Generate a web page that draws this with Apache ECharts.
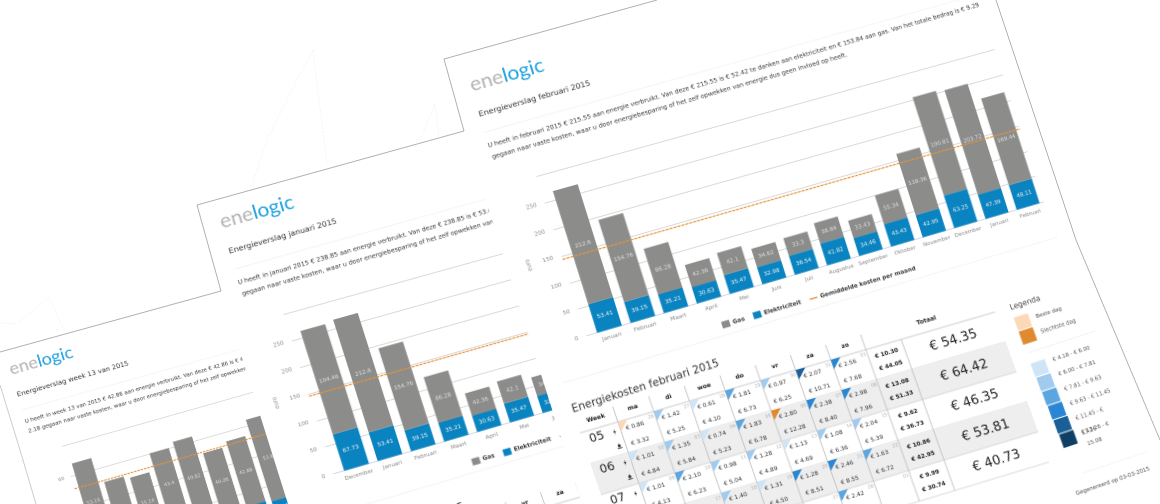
<!DOCTYPE html>
<html><head><meta charset="utf-8">
<style>html,body{margin:0;padding:0;background:#fff;width:1160px;height:504px;overflow:hidden}
.layer{position:absolute;left:0;top:0;width:1160px;height:504px;overflow:hidden}
.page{position:absolute;left:0;top:0;transform-origin:0 0}
svg{position:absolute;left:0;top:0}</style>
<script src="https://cdn.jsdelivr.net/npm/echarts@6/dist/echarts.min.js"></script>
</head><body>
<div class="layer" id="l1" style="clip-path:polygon(0 0,221px 0,221px 291px,288px 504px,0 504px)"><div class="page" id="p1"></div><div class="page" id="c1"></div></div>
<div class="layer" id="l2" style="clip-path:polygon(0 0,464px 0,464px 131px,582px 504px,0 504px)"><div class="page" id="p2"></div><div class="page" id="c2"></div><div class="page" id="t2"></div></div>
<div class="layer" id="l3"><div class="page" id="p3"></div><div class="page" id="c3"></div><div class="page" id="t3"></div></div>
<svg width="1160" height="504" fill="none">
<polyline points="657,0 444,59 464,131 197,205 221,291 0,352" stroke="#8e8e8e" stroke-width="0.7"/>
<polyline points="0,385 20,450 36,504" stroke="#b5b5b5" stroke-width="0.7"/>
<polyline points="996,0 1076,240 1160,440" stroke="#8e8e8e" stroke-width="0.7"/>
<g stroke="#ececec" stroke-width="0.6" stroke-dasharray="2 1.5">
<polyline points="252,186 267,140 297,80 313,50 327,165"/>
<polyline points="420,140 435,104 439,137"/>
<polyline points="0,323 17,324 49,297 65,333"/>
</g>
</svg>
<script>
// ---------- data: monthly report February ----------
const febCategories=['Januari','Februari','Maart','April','Mei','Juni','Juli','Augustus','September','Oktober','November','December','Januari','Februari'];
const febGas=[212.6,154.76,86.28,42.36,42.1,34.62,33.3,38.84,33.43,55.34,118.36,190.81,203.72,169.44];
const febElec=[53.41,39.15,35.21,30.63,35.47,32.98,36.54,41.82,34.46,43.43,42.95,63.25,47.39,48.11];
const febAverage=143;
// ---------- data: monthly report January ----------
const janCategories=['December','Januari','Februari','Maart','April','Mei','Juni','Juli','Augustus','September','Oktober','November','December','Januari'];
const janGas=[194.46,212.6,154.76,86.28,42.36,42.1,34.62,33.3,38.84,33.43,55.34,118.36,190.81,203.72];
const janElec=[67.73,53.41,39.15,35.21,30.63,35.47,32.98,36.54,41.82,34.46,43.43,42.95,63.25,47.39];
const janAverage=146;
// ---------- data: week report ----------
const weekCategories=['1','2','3','4','5','6','7','8','9'];
const weekGas=[53.16,37,35.14,43.4,49.82,40.26,42.88,53.6,45];
const weekElec=[14.5,14,14,17,13.5,11,11.5,10.5,12];
const weekAverage=52;
// ---------- data: cost table ----------
const dayNames=['ma','di','woe','do','vr','za','zo'];
const weekNames=['05','06','07','08','09'];
const cellDates=[['26','27','28','29','30','31','01'],['02','03','04','05','06','07','08'],['09','10','11','12','13','14','15'],['16','17','18','19','20','21','22'],['23','24','25','26','27','28','01']];
const cellElec=[[0.86,1.42,0.61,1.81,0.97,2.07,2.56],[1.01,1.35,0.74,1.83,2.80,2.38,2.98],[1.01,2.10,0.98,1.28,1.13,1.08,2.04],[null,null,1.40,1.31,1.28,2.46,1.63],[null,null,null,null,null,2.42,null]];
const cellGas=[[3.32,5.25,4.10,6.73,6.25,10.71,7.68],[4.84,5.84,5.23,6.78,12.28,8.40,7.96],[4.13,6.23,5.04,4.89,4.69,6.36,5.39],[null,null,5.60,4.50,8.51,8.55,6.72],[null,null,null,null,null,6.20,null]];
const sumElec=['€ 10.30','€ 13.08','€ 9.62','€ 10.86','€ 9.99'];
const sumGas=['€ 44.05','€ 51.33','€ 36.73','€ 42.95','€ 30.74'];
const rowTotals=['€ 54.35','€ 64.42','€ 46.35','€ 53.81','€ 40.73'];
const bucketEdges=[4.18,6.00,7.81,9.63,11.45,13.26,15.08];
const bucketColors=['#cfe4f5','#a0cbee','#5ba6e0','#2a86d4','#1a5f98','#0f3f66'];
const bestColor='#fcd9b6',worstColor='#e08a30';
const legendLabels=['€ 4.18 - € 6.00','€ 6.00 - € 7.81','€ 7.81 - € 9.63','€ 9.63 - € 11.45','€ 11.45 - €','€ 13.26 - €'];
const legendWrapped=['13.26','15.08'];

// ---------- perspective of the sheets ----------
const W=560,H=600;
const baseQuad=[[444,59],[967,-86],[1170,470],[618,660]];
function homography(q,w,h0,sx,sy){
  const [x0,y0]=q[0],[x1,y1]=q[1],[x2,y2]=q[2],[x3,y3]=q[3];
  const dx1=x1-x2,dx2=x3-x2,dx3=x0-x1+x2-x3,dy1=y1-y2,dy2=y3-y2,dy3=y0-y1+y2-y3;
  const den=dx1*dy2-dx2*dy1,g=(dx3*dy2-dx2*dy3)/den,h=(dx1*dy3-dx3*dy1)/den;
  const a=x1-x0+g*x1,b=x3-x0+h*x3,c=x0,d=y1-y0+g*y1,e=y3-y0+h*y3,f=y0;
  const ox=sx||0,oy=sy||0;
  return {css:'matrix3d('+[a/w,d/w,0,g/w,b/h0,e/h0,0,h/h0,0,0,1,0,c,f,0,1].join(',')+') translate('+(-ox)+'px,'+(-oy)+'px)',
    inv(X,Y){const A=a-g*X,B=b-h*X,C=X-c,D=d-g*Y,E=e-h*Y,F=Y-f,det=A*E-B*D;return [(C*E-B*F)/det*w+ox,(A*F-C*D)/det*h0+oy];}};
}
const H3=homography(baseQuad,W,H);
const H2=homography(baseQuad.map(p=>[p[0]-250,p[1]+137]),W,H);
const weekScale=0.86;
const H1=homography(baseQuad.map(p=>[(p[0]-473)*weekScale+12,(p[1]-95)*weekScale+378]),W,H);
const P=(x,y)=>H3.inv(x,y);

const tableQuad=[[580,433],[995,312],[1049,462],[632.5,588]];
const TW=432,TH=160,TX=20,TY=30;

const FONT='"DejaVu Sans",sans-serif';
function txt(sx,sy,text,size,color,weight,align){const p=P(sx,sy);
  return {type:'text',silent:true,x:p[0],y:p[1],style:{text,fontSize:size,fontFamily:FONT,fontWeight:weight||'normal',fill:color,align:align||'left',verticalAlign:'middle'}};}
function hr(x1,y1,x2,y2,color){const a=P(x1,y1),b=P(x2,y2);
  return {type:'line',silent:true,shape:{x1:a[0],y1:a[1],x2:b[0],y2:b[1]},style:{stroke:color||'#f1f1f1',lineWidth:0.8}};}

const colEdges=[0,8.9,17.38,25.86,34.34,42.82,51.3,59.78,68.3,76.9,100];

function tableSeries(withCells){
  const rows=weekNames.map((_,i)=>i);
  const out=[];
  out.push({type:'custom',silent:true,clip:false,data:withCells?rows.map(r=>[0,r]):[],z:1,
    renderItem(params,api){const r=api.value(1),a=api.coord([0,r]),b=api.coord([100,r+1]);
      const ch=[];
      if(r%2===1)ch.push({type:'rect',shape:{x:a[0],y:a[1],width:b[0]-a[0],height:b[1]-a[1]},style:{fill:'#eeeeee'}});
      ch.push({type:'line',shape:{x1:a[0],y1:b[1],x2:b[0],y2:b[1]},style:{stroke:'#cfcfcf',lineWidth:0.7}});
      return {type:'group',children:ch};}});
  out.push({type:'custom',silent:true,clip:false,data:colEdges.map((e,i)=>[e,i]).slice(0,-1),z:2,
    renderItem(params,api){const i=api.value(1),e=api.value(0);
      const ch=[];
      if(i>0){const a=api.coord([e,i===9?0:-0.5]),b=api.coord([e,5]);
        ch.push({type:'line',shape:{x1:a[0],y1:a[1],x2:b[0],y2:b[1]},style:{stroke:'#bcbcbc',lineWidth:0.8}});}
      const head=i===0?'Week':(i<=7?dayNames[i-1]:null);
      if(head){const c=api.coord([(e+colEdges[i+1])/2,-0.3]);
        ch.push({type:'text',style:{x:c[0],y:c[1],text:head,fontFamily:FONT,fontSize:6,fontWeight:'bold',fill:'#222',align:'center',verticalAlign:'middle'}});}
      if(i===0){const a=api.coord([0,0]),b=api.coord([100,0]);
        ch.push({type:'line',shape:{x1:a[0],y1:a[1],x2:b[0],y2:b[1]},style:{stroke:'#bcbcbc',lineWidth:0.8}});
        const t=api.coord([84,-0.35]);
        ch.push({type:'text',style:{x:t[0],y:t[1],text:'Totaal',fontFamily:FONT,fontSize:6,fontWeight:'bold',fill:'#222',align:'center',verticalAlign:'middle'}});}
      return {type:'group',children:ch};}});
  if(!withCells)return out;
  const cells=[];
  cellDates.forEach((row,r)=>row.forEach((_,c)=>cells.push([c,r])));
  const minT=bucketEdges[0],maxT=bucketEdges[bucketEdges.length-1];
  out.push({type:'custom',silent:true,clip:false,data:cells,z:3,
    renderItem(params,api){const c=api.value(0),r=api.value(1);
      const x0=colEdges[c+1],x1=colEdges[c+2];
      const a=api.coord([x0,r]),b=api.coord([x1,r+1]);const w=b[0]-a[0],h=b[1]-a[1];
      const ch=[];
      const e=cellElec[r][c],g=cellGas[r][c];
      if(e!==null&&g!==null){
        const t=+(e+g).toFixed(2);
        let col=bucketColors.find((_,i)=>t<bucketEdges[i+1])||bucketColors[5];
        if(t<=minT)col=bestColor;if(t>=maxT)col=worstColor;
        ch.push({type:'polygon',shape:{points:[[a[0],a[1]],[a[0]+10,a[1]],[a[0],a[1]+10]]},style:{fill:col}});
      }
      ch.push({type:'text',style:{x:a[0]+w-1.5,y:a[1]+h*0.13,text:cellDates[r][c],fontFamily:FONT,fontSize:4.5,fill:'#aaa',align:'right',verticalAlign:'middle'}});
      if(e!==null)ch.push({type:'text',style:{x:a[0]+5.5,y:a[1]+h*0.27,text:'€ '+e.toFixed(2),fontFamily:FONT,fontSize:5.8,fill:'#333',align:'left',verticalAlign:'middle'}});
      if(g!==null)ch.push({type:'text',style:{x:a[0]+5.5,y:a[1]+h*0.77,text:'€ '+g.toFixed(2),fontFamily:FONT,fontSize:5.8,fill:'#333',align:'left',verticalAlign:'middle'}});
      return {type:'group',children:ch};}});
  out.push({type:'custom',silent:true,clip:false,data:rows.map(r=>[0,r]),z:3,
    renderItem(params,api){const r=api.value(1);
      const a=api.coord([0,r]),b=api.coord([colEdges[1],r+1]),w=b[0]-a[0],h=b[1]-a[1];
      const sc=api.coord([(colEdges[8]+colEdges[9])/2,r]),tc=api.coord([(colEdges[9]+100)/2,r]);
      const bx=a[0]+w*0.84,by=a[1]+h*0.27,fx=a[0]+w*0.84,fy=a[1]+h*0.72;
      return {type:'group',children:[
        {type:'text',style:{x:a[0]+w*0.37,y:a[1]+h*0.28,text:weekNames[r],fontFamily:FONT,fontSize:11.5,fill:'#222',align:'center',verticalAlign:'middle'}},
        {type:'polygon',shape:{points:[[bx+0.6,by-3],[bx-1.3,by+0.4],[bx-0.1,by+0.4],[bx-0.7,by+3],[bx+1.3,by-0.6],[bx+0.1,by-0.6]]},style:{fill:'#222'}},
        {type:'polygon',shape:{points:[[fx,fy-2.6],[fx+1.6,fy],[fx+0.9,fy+1.4],[fx-0.9,fy+1.4],[fx-1.6,fy]]},style:{fill:'#333'}},
        {type:'rect',shape:{x:fx-2.4,y:fy+1.9,width:4.8,height:0.8},style:{fill:'#333'}},
        {type:'text',style:{x:sc[0],y:sc[1]+h*0.29,text:sumElec[r],fontFamily:FONT,fontSize:5.8,fontWeight:'bold',fill:'#222',align:'center',verticalAlign:'middle'}},
        {type:'text',style:{x:sc[0],y:sc[1]+h*0.71,text:sumGas[r],fontFamily:FONT,fontSize:5.8,fontWeight:'bold',fill:'#222',align:'center',verticalAlign:'middle'}},
        {type:'text',style:{x:tc[0],y:tc[1]+h*0.5,text:rowTotals[r],fontFamily:FONT,fontSize:13,fill:'#222',align:'center',verticalAlign:'middle'}}
      ]};}});
  return out;
}

function mountSheet(id,hom,cfg){
  const el=document.getElementById(id);
  el.style.width='680px';el.style.height='720px';el.style.transform=hom.css;
  const ch=echarts.init(el,null,{renderer:'canvas',devicePixelRatio:2,width:680,height:720});
  const logoP=P(473,95);
  const graphic=[
    {type:'text',silent:true,x:logoP[0],y:logoP[1],style:{text:'{a|ene}{b|logic}',verticalAlign:'bottom',rich:{a:{fontFamily:'Lato',fontSize:20.5,fontWeight:400,fill:'#b2b2b2'},b:{fontFamily:'Lato',fontSize:20.5,fontWeight:400,fill:'#1a9fe0'}}}},
    txt(479,115,cfg.title,7.8,'#333'),
    txt(488,146,cfg.line1,6.25,'#333'),
    txt(492,157,cfg.line2,6.25,'#333'),
    hr(485,132,966,-2),
    hr(563,383,1058,237)
  ];
  if(cfg.tableTitle)graphic.push(txt(572,410+(cfg.tableTitleDy||0),cfg.tableTitle,10.3,'#333'));
  if(cfg.full){
    graphic.push(hr(1028,353,1095,331),hr(1083,473,1147,452));
    graphic.push(txt(1010,308,'Legenda',7.6,'#444'),txt(1036,317,'Beste dag',5.5,'#555'),txt(1041,332,'Slechtste dag',5.5,'#555'));
    graphic.push(txt(1076,494,'Gegenereerd op 03-03-2015',5.5,'#555'));
    const sw=(sx,sy,fill)=>{const p=P(sx,sy);return {type:'rect',silent:true,shape:{x:p[0]-7.5,y:p[1]-6.8,width:15,height:13.6},style:{fill}};};
    graphic.push(sw(1023,322,bestColor),sw(1028,336,worstColor));
    bucketColors.forEach((c,i)=>graphic.push(sw(1040+i*5.7,368+i*14.2,c)));
    legendLabels.forEach((t,i)=>graphic.push(txt(1053+i*5.7,360+i*14.6,t,5.4,'#555')));
    legendWrapped.forEach((t,i)=>graphic.push(txt(1081.7+i*5.7,433+i*11,t,5.4,'#555')));
  }
  ch.setOption({animation:false,graphic:{elements:graphic}});
}

function mountChart(id,cfg){
  const q=cfg.quad,dist=(a,b)=>Math.hypot(a[0]-b[0],a[1]-b[1]);
  const CW=dist(q[3],q[2])/cfg.scale,CH=dist(q[3],q[0])/cfg.scale,CX=40,CY=12;
  const hom=homography(q,CW,CH,CX,CY);
  const el=document.getElementById(id);
  const cw=Math.ceil(CW)+80,chh=Math.ceil(CH)+70;
  el.style.width=cw+'px';el.style.height=chh+'px';el.style.transform=hom.css;
  const ch=echarts.init(el,null,{renderer:'canvas',devicePixelRatio:2,width:cw,height:chh});
  const lg=hom.inv(cfg.legend[0],cfg.legend[1]);
  const hideMax=v=>v===cfg.max?'':String(v);
  const inset=cfg.barInset*CW;
  ch.setOption({
    animation:false,
    textStyle:{fontFamily:FONT},
    legend:{left:lg[0],top:lg[1],itemWidth:8,itemHeight:7,itemGap:9,padding:0,textStyle:{fontSize:5.8,fontWeight:'bold',color:'#333',padding:[0,0,0,-2]},
      data:[{name:'Gas',icon:'rect'},{name:'Elektriciteit',icon:'rect'},{name:'Gemiddelde kosten per maand',icon:'path://M0 0H20V3.5H0Z',itemStyle:{color:'#e8913a'}}]},
    grid:[
      {left:CX,width:CW,top:CY,height:CH},
      {left:CX+inset,width:CW-inset,top:CY,height:CH}
    ],
    xAxis:[
      {type:'category',gridIndex:0,data:cfg.categories,axisTick:{show:false},axisLabel:{show:false},axisLine:{lineStyle:{color:'#ccd6eb',width:0.8}}},
      {type:'category',gridIndex:1,data:cfg.categories,axisTick:{show:false},axisLine:{show:false},axisLabel:{interval:0,fontSize:5.5,color:'#8a8a8a',margin:5,hideOverlap:false}}
    ],
    yAxis:[
      {type:'value',gridIndex:0,min:0,max:cfg.max,interval:cfg.step,name:'euro',nameLocation:'middle',nameGap:21,nameTextStyle:{fontSize:5.5,color:'#8a8a8a'},axisLine:{show:false},axisTick:{show:false},axisLabel:{fontSize:5.5,color:'#8a8a8a',margin:8,formatter:hideMax},splitLine:{lineStyle:{color:'#d9d9d9',width:0.9}}},
      {type:'value',gridIndex:1,min:0,max:cfg.max,interval:cfg.step,show:false}
    ],
    series:[
      {name:'Elektriciteit',type:'bar',stack:'t',xAxisIndex:1,yAxisIndex:1,data:cfg.elec,barCategoryGap:cfg.gap,itemStyle:{color:'#0a84c1'},label:{show:true,position:'inside',fontSize:5.6,color:'#f2f2f2'}},
      {name:'Gas',type:'bar',stack:'t',xAxisIndex:1,yAxisIndex:1,data:cfg.gas,barCategoryGap:cfg.gap,itemStyle:{color:'#8c8d8b'},label:{show:true,position:'inside',fontSize:5.6,color:'#dedede'}},
      {name:'Gemiddelde kosten per maand',type:'line',symbol:'none',color:'#e8913a',xAxisIndex:0,yAxisIndex:0,data:[],itemStyle:{color:'#e8913a'},lineStyle:{color:'#e8913a',width:1},z:5,
        markLine:{silent:true,symbol:'none',label:{show:false},lineStyle:{color:'#e8913a',type:[3,1],width:1.3},data:[{yAxis:cfg.avg}]}}
    ]
  });
}
function mountTable(id,ox,oy,full){
  const el=document.getElementById(id);
  const hom=homography(tableQuad.map(p=>[p[0]+ox,p[1]+oy]),TW,TH,TX,TY);
  el.style.width='480px';el.style.height='210px';el.style.transform=hom.css;
  const ch=echarts.init(el,null,{renderer:'canvas',devicePixelRatio:2,width:480,height:210});
  const rowH=TH/5;
  ch.setOption({animation:false,textStyle:{fontFamily:FONT},
    grid:{left:TX,top:TY-0.5*rowH,width:TW,height:5.5*rowH},
    xAxis:{type:'value',min:0,max:100,show:false},
    yAxis:{type:'value',min:-0.5,max:5,inverse:true,show:false},
    series:tableSeries(full)});
}
const line2='gegaan naar vaste kosten, waar u door energiebesparing of het zelf opwekken van energie dus geen invloed op heeft.';
mountSheet('p1',H1,{title:'Energieverslag week 13 van 2015',
  line1:'U heeft in week 13 van 2015 € 42.86 aan energie verbruikt. Van deze € 42.86 is € 40.68 te danken aan elektriciteit en gas. Van het totale bedrag is €',
  line2:'2.18 gegaan naar vaste kosten, waar u door energiebesparing of het zelf opwekken van energie dus geen invloed op heeft.'});
mountChart('c1',{quad:[[62,446],[284,383],[323,504],[98,570]],scale:weekScale,legend:[300,560],barInset:0.007,
  categories:weekCategories,gas:weekGas,elec:weekElec,avg:weekAverage,max:80,step:20,gap:'22%'});
mountSheet('p2',H2,{title:'Energieverslag januari 2015',tableTitle:'Energiekosten januari 2015',tableTitleDy:5,
  line1:'U heeft in januari 2015 € 238.85 aan energie verbruikt. Van deze € 238.85 is € 53.41 te danken aan elektriciteit en € 185.44 aan gas. Van het totale bedrag is € 9.29',
  line2});
mountChart('c2',{quad:[[280,315],[741.6,187],[793.6,340],[330,475]],scale:1,legend:[471,459],barInset:0.0204,
  categories:janCategories,gas:janGas,elec:janElec,avg:janAverage,max:300,step:50,gap:'26%'});
mountSheet('p3',H3,{full:true,title:'Energieverslag februari 2015',tableTitle:'Energiekosten februari 2015',
  line1:'U heeft in februari 2015 € 215.55 aan energie verbruikt. Van deze € 215.55 is € 52.42 te danken aan elektriciteit en € 153.84 aan gas. Van het totale bedrag is € 9.29',
  line2});
mountChart('c3',{quad:[[533,177],[994.6,49],[1043.6,202],[583,337]],scale:1,legend:[721,322],barInset:0.0204,
  categories:febCategories,gas:febGas,elec:febElec,avg:febAverage,max:300,step:50,gap:'26%'});
mountTable('t2',-250,137,false);
mountTable('t3',0,0,true);
</script>
</body></html>
